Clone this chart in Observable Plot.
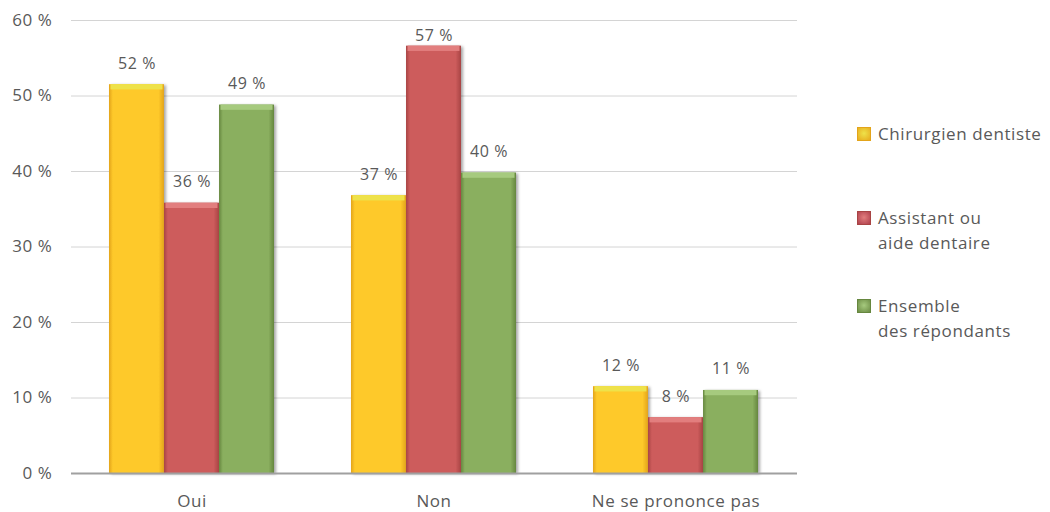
<!DOCTYPE html>
<html><head><meta charset="utf-8">
<script src="https://cdn.jsdelivr.net/npm/d3@7"></script>
<script src="https://cdn.jsdelivr.net/npm/@observablehq/plot@0.6"></script>
<style>
  body { margin:0; background:#fff; font-family: "Open Sans", Roboto, sans-serif; }
  #wrap { position:relative; width:1050px; height:512px; }
  .leg { position:absolute; left:857px; font-size:17px; line-height:25px; color:#595959; letter-spacing:0.6px; }
  .leg .sw { position:absolute; left:0; top:6px; width:14px; height:14px; box-sizing:border-box; }
  .leg .tx { position:absolute; left:21px; top:0; white-space:nowrap; }
  .bars { filter: drop-shadow(2px 1px 1.5px rgba(0,0,0,0.35)); }
  svg text { letter-spacing:0.6px; }
</style></head>
<body><div id="wrap"></div>
<script>
const categories = ["Oui", "Non", "Ne se prononce pas"];
const series = ["Chirurgien dentiste", "Assistant ou aide dentaire", "Ensemble des répondants"];
const chirurgien = [51.5, 36.8, 11.5];
const assistant  = [35.8, 56.6, 7.4];
const ensemble   = [48.8, 39.8, 11.0];
const labelsChirurgien = ["52 %", "37 %", "12 %"];
const labelsAssistant  = ["36 %", "57 %", "8 %"];
const labelsEnsemble   = ["49 %", "40 %", "11 %"];
const yTicks = [0, 10, 20, 30, 40, 50, 60];

const palette = [
  {main:"#FEC92A", edge:"#E3A41A", top:"#EEE24A", sw:"#E8AC1E"},
  {main:"#CD5C5C", edge:"#A84444", top:"#E27E7E", sw:"#AE3F4C"},
  {main:"#8AAF5F", edge:"#66873F", top:"#A6CA7E", sw:"#6C8C45"}
];

const valueSets = [chirurgien, assistant, ensemble];
const labelSets = [labelsChirurgien, labelsAssistant, labelsEnsemble];
const data = [];
categories.forEach((c, i) => series.forEach((s, j) => {
  data.push({cat: c, serie: s, idx: j, value: valueSets[j][i], label: labelSets[j][i]});
}));

const W = 1050, H = 512, mL = 71, mR = 253, mT = 20, mB = 39;
const xOpts = {type:"band", domain:categories, paddingInner:0.318, paddingOuter:0.159};
const xs = Plot.scale({x: {...xOpts, range:[mL, W - mR]}});
const barW = xs.bandwidth / series.length;

const marks = [
  Plot.gridY(yTicks.filter(d => d > 0), {stroke:"#d4d4d4", strokeOpacity:1, strokeWidth:1}),
  Plot.axisY({ticks: yTicks, tickSize:0, tickPadding:19, tickFormat: d => d + " %", fontSize:17, fill:"#595959", label:null}),
  Plot.ruleX([0], {frameAnchor:"left", stroke:"#a6a6a6", strokeWidth:1.5}),
  Plot.axisX({tickSize:0, tickPadding:21, fontSize:17, fill:"#595959", label:null}),
];
series.forEach((s, j) => {
  const sub = data.filter(d => d.idx === j);
  const inset = {insetLeft: j * barW, insetRight: (series.length - 1 - j) * barW};
  marks.push(Plot.barY(sub, {x:"cat", y:"value", fill:`url(#grad${j})`, className:"bars", ...inset}));
  marks.push(Plot.barY(sub, {x:"cat", y1: d => d.value - 0.7, y2:"value", fill: palette[j].top,
    insetLeft: inset.insetLeft + 1.5, insetRight: inset.insetRight + 1.5}));
  marks.push(Plot.text(sub, {x:"cat", y: d => Math.min(d.value + 2.8, 58), text:"label",
    dx: (j - 1) * barW, fontSize:16, fill:"#595959"}));
});
marks.push(Plot.ruleY([0], {stroke:"#a0a0a0", strokeWidth:2}));

const chart = Plot.plot({
  width:W, height:H,
  marginLeft:mL, marginRight:mR, marginTop:mT, marginBottom:mB,
  style:{fontFamily:"'Open Sans', Roboto, sans-serif", color:"#595959", background:"#fff"},
  x:{...xOpts, label:null},
  y:{domain:[0,60], label:null},
  marks
});

// gradients for the bars
const defs = d3.select(chart).insert("defs", ":first-child");
palette.forEach((p, j) => {
  const g = defs.append("linearGradient").attr("id", "grad" + j).attr("x1",0).attr("x2",1).attr("y1",0).attr("y2",0);
  g.append("stop").attr("offset","0%").attr("stop-color", p.edge);
  g.append("stop").attr("offset","7%").attr("stop-color", p.main);
  g.append("stop").attr("offset","90%").attr("stop-color", p.main);
  g.append("stop").attr("offset","100%").attr("stop-color", p.edge);
});

const wrap = document.getElementById("wrap");
wrap.appendChild(chart);

const legendItems = [
  {lines:["Chirurgien dentiste"], top:121},
  {lines:["Assistant ou", "aide dentaire"], top:205},
  {lines:["Ensemble", "des répondants"], top:293}
];
legendItems.forEach((it, j) => {
  const d = document.createElement("div");
  d.className = "leg";
  d.style.top = it.top + "px";
  const sw = document.createElement("div");
  sw.className = "sw";
  sw.style.background = `radial-gradient(circle at 50% 45%, ${palette[j].top}, ${palette[j].sw})`;
  sw.style.border = `1px solid ${palette[j].edge}`;
  d.appendChild(sw);
  const tx = document.createElement("div");
  tx.className = "tx";
  tx.innerHTML = it.lines.join("<br>");
  d.appendChild(tx);
  wrap.appendChild(d);
});
</script></body></html>
